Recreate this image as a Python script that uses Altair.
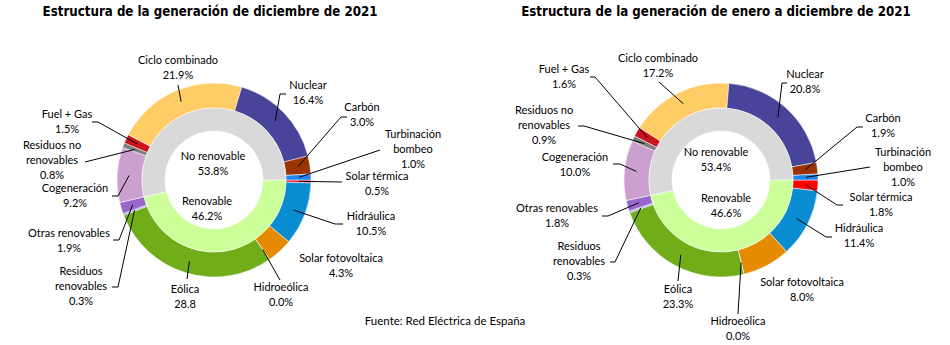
import math
import altair as alt
import pandas as pd

# ---------------- data ----------------
categories = ["Solar térmica", "Hidráulica", "Solar fotovoltaica", "Hidroeólica", "Eólica",
              "Residuos renovables", "Otras renovables", "Cogeneración", "Residuos no renovables",
              "Fuel + Gas", "Ciclo combinado", "Nuclear", "Carbón", "Turbinación bombeo"]
label_names = ["Solar térmica", "Hidráulica", "Solar fotovoltaica", "Hidroeólica", "Eólica",
               "Residuos\nrenovables", "Otras renovables", "Cogeneración", "Residuos no\nrenovables",
               "Fuel + Gas", "Ciclo combinado", "Nuclear", "Carbón", "Turbinación\nbombeo"]
dic_values = [0.5, 10.5, 4.3, 0.0, 28.8, 0.3, 1.9, 9.2, 0.8, 1.5, 21.9, 16.4, 3.0, 1.0]
dic_value_text = ["0.5%", "10.5%", "4.3%", "0.0%", "28.8", "0.3%", "1.9%", "9.2%", "0.8%",
                  "1.5%", "21.9%", "16.4%", "3.0%", "1.0%"]
year_values = [1.8, 11.4, 8.0, 0.0, 23.3, 0.3, 1.8, 10.0, 0.9, 1.6, 17.2, 20.8, 1.9, 1.0]
year_value_text = ["1.8%", "11.4%", "8.0%", "0.0%", "23.3%", "0.3%", "1.8%", "10.0%", "0.9%",
                   "1.6%", "17.2%", "20.8%", "1.9%", "1.0%"]

groups = ["Renovable", "No renovable"]
dic_group_values = [46.2, 53.8]
year_group_values = [46.6, 53.4]
dic_group_text = ["46.2%", "53.8%"]
year_group_text = ["46.6%", "53.4%"]

titles = ["Estructura de la generación de diciembre de 2021",
          "Estructura de la generación de enero a diciembre de 2021"]
source_text = "Fuente: Red Eléctrica de España"

# ---------------- styles ----------------
colors = ["#F01A2A", "#0A8CD2", "#E68A00", "#3A6FC4", "#70AD18", "#A6A6D2", "#9966CC",
          "#CCA0CE", "#7F7F7F", "#C8141E", "#FFCC66", "#48449A", "#993300", "#1E86F0"]
year_colors = list(colors)
year_colors[0] = "#FF0000"
group_colors = ["#CCFF99", "#D9D9D9"]

W, H = 950, 345
R_IN, R_MID, R_OUT, R_LEAD = 49, 72, 97, 85
LABEL_FONT = "Lato, Liberation Sans, sans-serif"
TITLE_FONT = "Liberation Sans Narrow, DejaVu Sans Condensed, Roboto, sans-serif"

# label layout: (center x, first line y) ; leader anchor (x, y, elbow dx) or None
left_layout = {
    "centre": (214, 180),
    "labels": [(377, 177), (371, 217), (341, 259), (281, 288), (185, 290), (81, 272),
               (69, 234), (75, 189), (52, 146), (67, 115), (178, 61), (308, 86),
               (362, 108), (413, 135)],
    "leaders": [(342, 182, 0), (343, 224, -8), None, (280, 280, 0), (187, 279, 0), (112, 287, 6),
                (113, 240, 6), (112, 196, 6), (85, 162, 0), (92, 122, 6), (178, 85, 0),
                (286, 94, -6), (347, 117, -6), (380, 150, 0)],
    "inner": [(207, 202), (213, 157)],
}
right_layout = {
    "centre": (721, 180),
    "labels": [(881, 198), (859, 229), (802, 283), (738, 322), (678, 290), (579, 247),
               (557, 209), (575, 158), (544, 111), (564, 70), (658, 59), (805, 75),
               (883, 119), (903, 153)],
    "leaders": [(843, 205, -6), (832, 237, -6), None, (738, 314, 0), (678, 281, 0), (610, 262, 5),
                (602, 216, 6), (613, 164, 7), (578, 126, 6), (590, 77, 5), (659, 82, 0),
                (787, 83, -5), (863, 127, -6), (870, 167, 0)],
    "inner": [(726, 199), (716, 153)],
}

xs = alt.Scale(domain=[0, W], nice=False, zero=False)
ys = alt.Scale(domain=[0, H], nice=False, zero=False, reverse=True)


def donut(values, vtext, gvalues, gtext, layout, cols):
    cx, cy = layout["centre"]
    outer = pd.DataFrame({"cat": categories, "value": values, "idx": list(range(len(categories)))})
    inner = pd.DataFrame({"grp": groups, "value": gvalues, "idx": [0, 1]})
    theta_scale = alt.Scale(range=[math.pi / 2, math.pi / 2 + 2 * math.pi])

    outer_arc = alt.Chart(outer).mark_arc(
        innerRadius=R_MID, outerRadius=R_OUT, x=cx, y=cy, stroke="white", strokeWidth=0.5
    ).encode(
        theta=alt.Theta("value:Q", stack=True, scale=theta_scale),
        color=alt.Color("cat:N", scale=alt.Scale(domain=categories, range=cols), legend=None),
        order=alt.Order("idx:Q"),
    )
    inner_arc = alt.Chart(inner).mark_arc(
        innerRadius=R_IN, outerRadius=R_MID, x=cx, y=cy, stroke="white", strokeWidth=0.5
    ).encode(
        theta=alt.Theta("value:Q", stack=True, scale=theta_scale),
        color=alt.Color("grp:N", scale=alt.Scale(domain=groups, range=group_colors), legend=None),
        order=alt.Order("idx:Q"),
    )

    total = sum(values)
    rows, segs = [], []
    cum = 0.0
    for i, (name, v, t) in enumerate(zip(label_names, values, vtext)):
        mid = cum + v / 2
        cum += v
        ang = math.radians(90 + 360 * mid / total)
        sx, sy = cx + R_LEAD * math.sin(ang), cy - R_LEAD * math.cos(ang)
        lx, ly = layout["labels"][i]
        rows.append({"tx": lx, "ty": ly, "label": name + "\n" + t})
        ld = layout["leaders"][i]
        if ld is not None:
            ax, ay, ex = ld
            segs.append({"x": ax, "y": ay, "x2": ax + ex, "y2": ay})
            segs.append({"x": ax + ex, "y": ay, "x2": sx, "y2": sy})
    for j, (g, t) in enumerate(zip(groups, gtext)):
        lx, ly = layout["inner"][j]
        rows.append({"tx": lx, "ty": ly, "label": g + "\n" + t})
    lab = pd.DataFrame(rows)
    seg = pd.DataFrame(segs)

    texts = alt.Chart(lab).mark_text(
        font=LABEL_FONT, fontSize=11, lineBreak="\n", lineHeight=15, align="center",
        baseline="middle", color="#000000"
    ).encode(
        x=alt.X("tx:Q", scale=xs, axis=None),
        y=alt.Y("ty:Q", scale=ys, axis=None),
        text="label:N",
    )
    rules = alt.Chart(seg).mark_rule(color="#000000", strokeWidth=1).encode(
        x=alt.X("x:Q", scale=xs, axis=None),
        y=alt.Y("y:Q", scale=ys, axis=None),
        x2="x2:Q",
        y2="y2:Q",
    )
    return [outer_arc, inner_arc, rules, texts]


layers = []
layers += donut(dic_values, dic_value_text, dic_group_values, dic_group_text, left_layout, colors)
layers += donut(year_values, year_value_text, year_group_values, year_group_text, right_layout, year_colors)

head = pd.DataFrame({"tx": [210, 716], "ty": [12, 12], "label": titles})
title_layer = alt.Chart(head).mark_text(
    font=TITLE_FONT, fontSize=13.2, fontWeight="bold", align="center", baseline="middle", color="#000000"
).encode(x=alt.X("tx:Q", scale=xs, axis=None), y=alt.Y("ty:Q", scale=ys, axis=None), text="label:N")

src = pd.DataFrame({"tx": [445], "ty": [322], "label": [source_text]})
src_layer = alt.Chart(src).mark_text(
    font=LABEL_FONT, fontSize=11.5, align="center", baseline="middle", color="#000000"
).encode(x=alt.X("tx:Q", scale=xs, axis=None), y=alt.Y("ty:Q", scale=ys, axis=None), text="label:N")

chart = alt.layer(*layers, title_layer, src_layer).resolve_scale(
    theta="independent", color="independent"
).properties(
    width=W, height=H, padding=0, autosize=alt.AutoSizeParams(type="none"), background="white"
).configure_view(stroke=None)

chart.save("out.html", embed_options={"renderer": "svg", "actions": False})
